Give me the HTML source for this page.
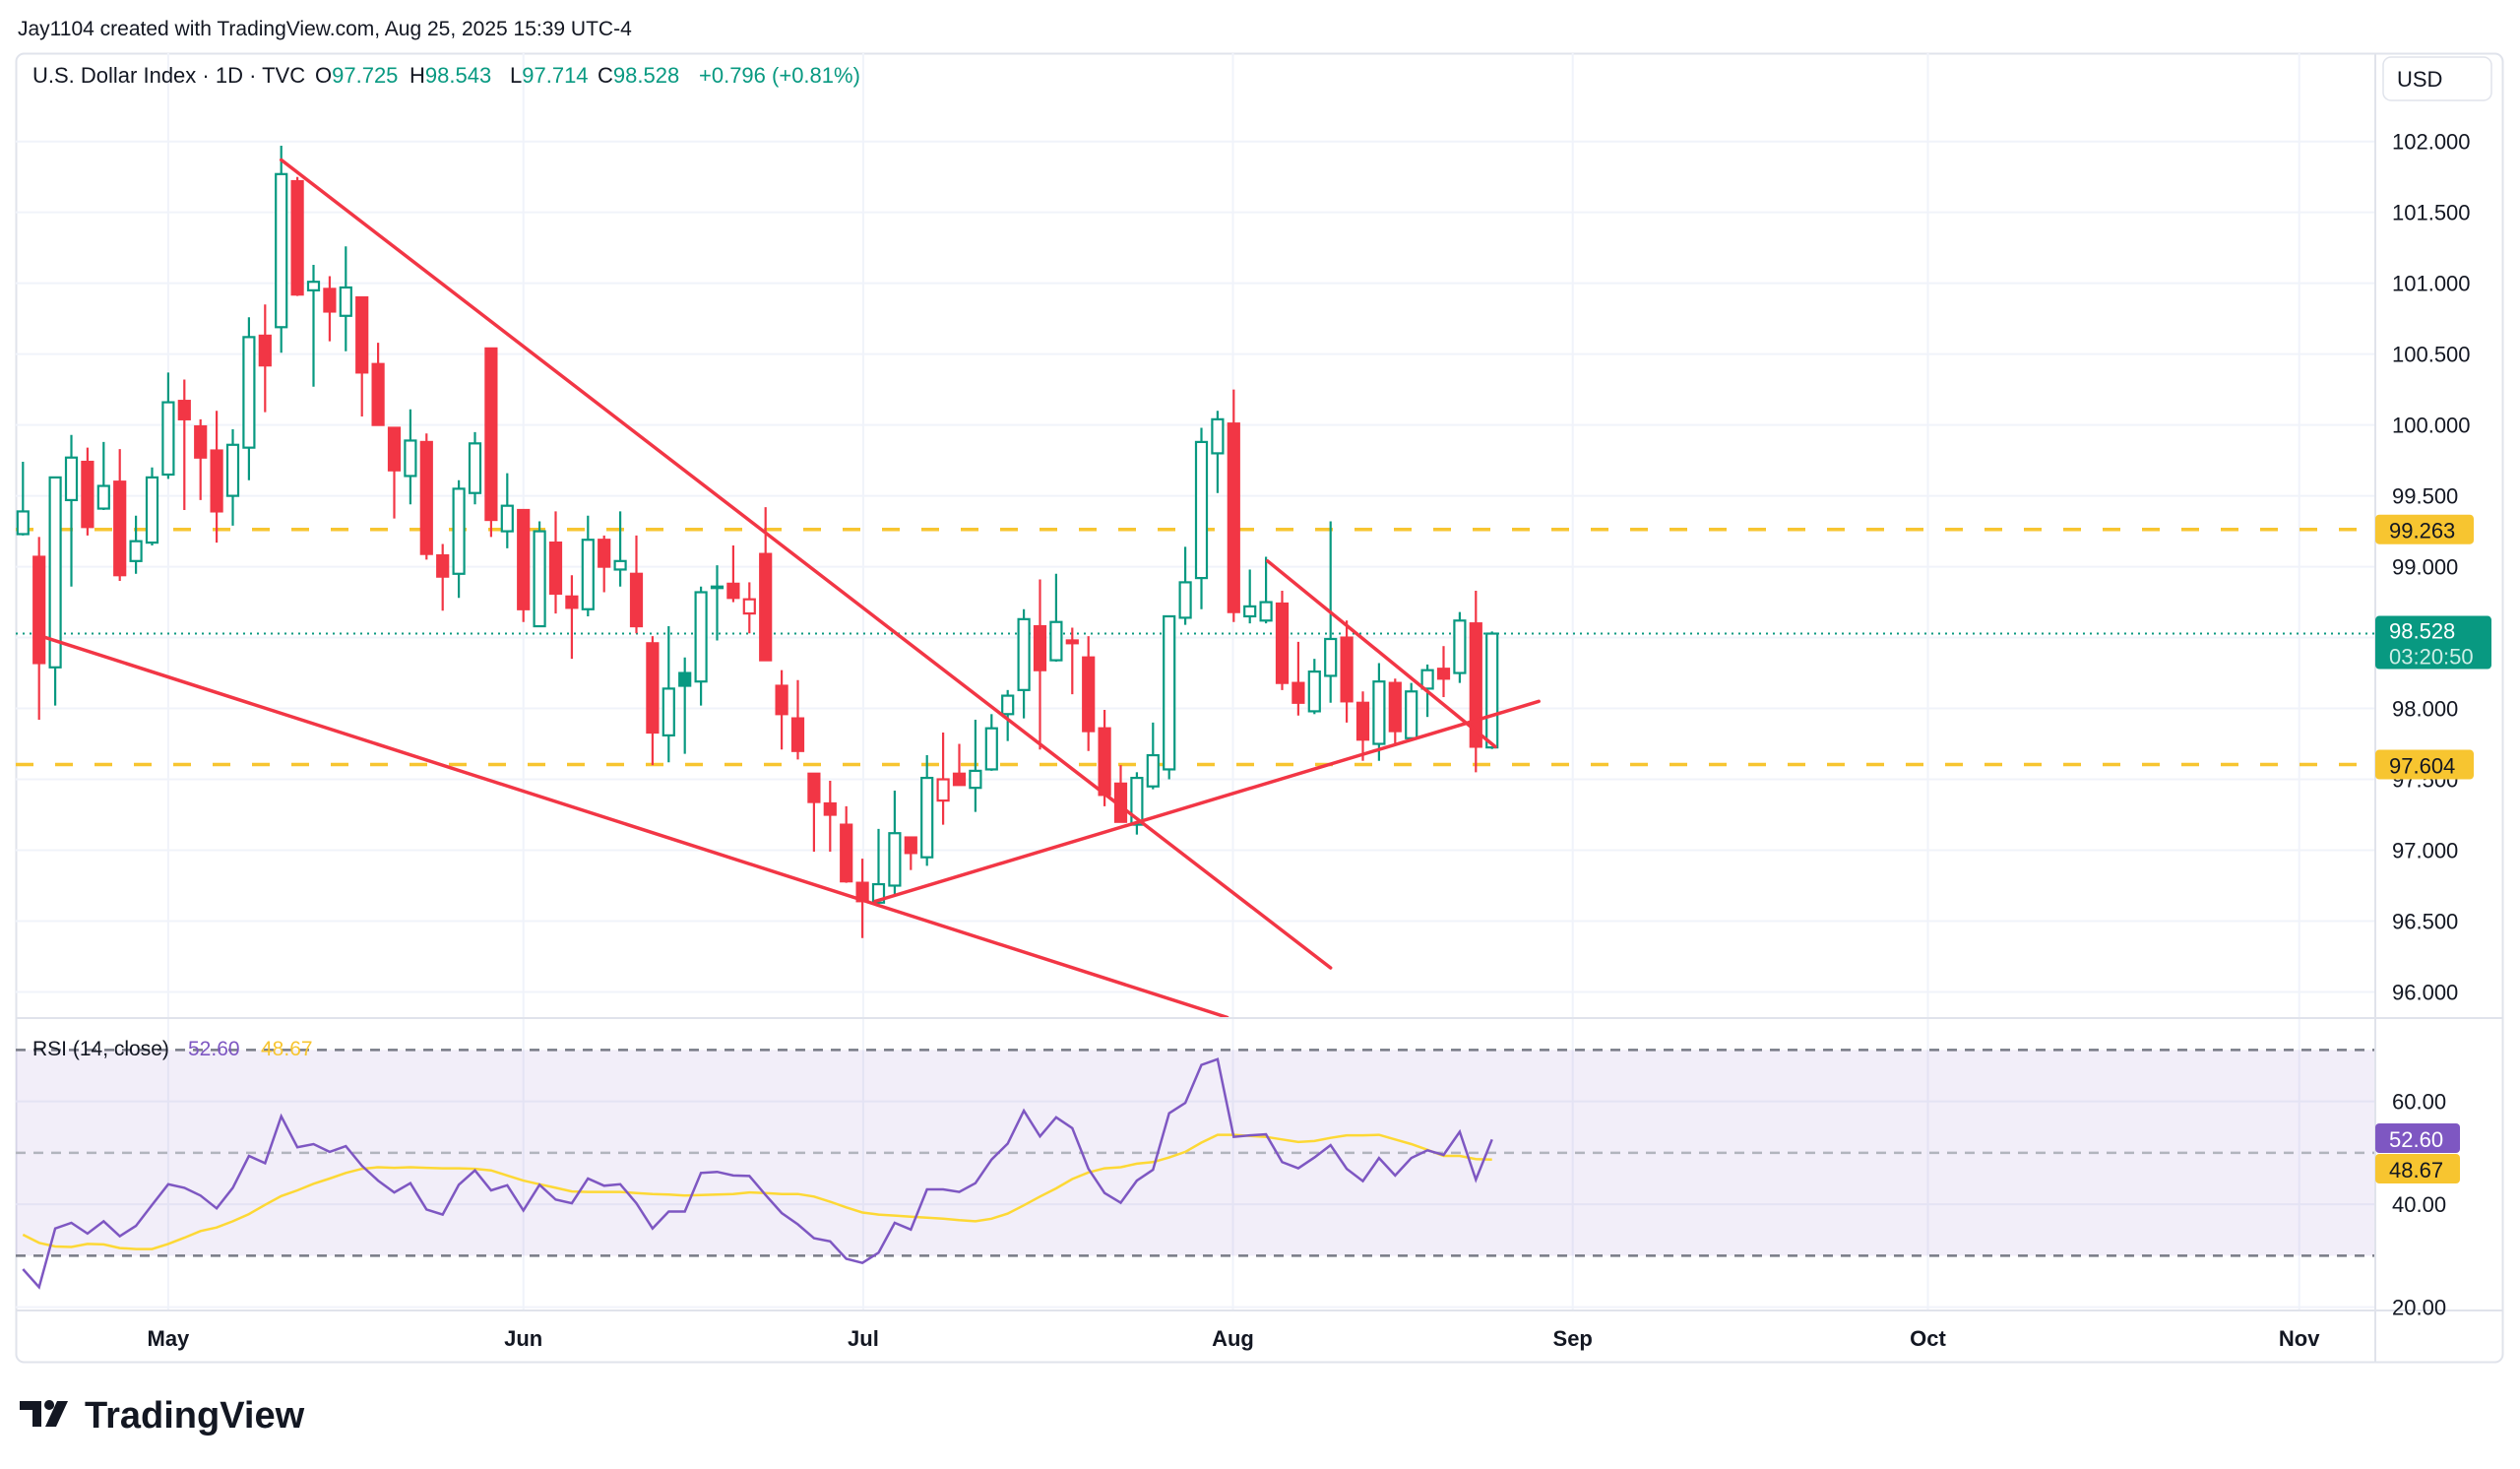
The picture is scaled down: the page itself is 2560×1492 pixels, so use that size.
<!DOCTYPE html>
<html><head><meta charset="utf-8"><style>
html,body{margin:0;padding:0;background:#fff;}
svg{display:block;font-family:"Liberation Sans",sans-serif;}
</style></head><body>
<svg id="chart" width="2560" height="1492" viewBox="0 0 2560 1492" xmlns="http://www.w3.org/2000/svg">
<rect x="0" y="0" width="2560" height="1492" fill="#ffffff"/>
<text x="18" y="36" font-size="21" fill="#131722">Jay1104 created with TradingView.com, Aug 25, 2025 15:39 UTC-4</text>
<rect x="16.5" y="54.5" width="2526" height="1329" rx="8" fill="none" stroke="#e0e3eb" stroke-width="2"/>
<g id="grid"></g>
<rect id="rsiBand" fill="#7e57c2" fill-opacity="0.1"/>
<g id="rsiLines"></g>
<g id="hlines"></g>
<g id="candles"></g>
<g id="trend"></g>
<g id="rsiPlot"></g>
<line x1="2413" y1="54" x2="2413" y2="1383" stroke="#e0e3eb" stroke-width="2"/>
<line x1="16" y1="1034" x2="2542" y2="1034" stroke="#e0e3eb" stroke-width="2"/>
<line x1="16" y1="1331" x2="2542" y2="1331" stroke="#e0e3eb" stroke-width="2"/>
<g id="axes"></g>
<rect x="2421" y="58" width="110" height="44" rx="8" fill="#fff" stroke="#e0e3eb" stroke-width="1.5"/>
<text x="2435" y="88" font-size="22" fill="#131722">USD</text>
<g font-size="22">
<text x="33" y="84" fill="#131722">U.S. Dollar Index · 1D · TVC</text>
<text x="320" y="84" fill="#131722">O<tspan fill="#089981">97.725</tspan></text>
<text x="416" y="84" fill="#131722">H<tspan fill="#089981">98.543</tspan></text>
<text x="518" y="84" fill="#131722">L<tspan fill="#089981">97.714</tspan></text>
<text x="607" y="84" fill="#131722">C<tspan fill="#089981">98.528</tspan></text>
<text x="710" y="84" fill="#089981">+0.796 (+0.81%)</text>
</g>
<g font-size="21">
<text x="33" y="1072" fill="#131722">RSI (14, close)</text>
<text x="191" y="1072" fill="#7e57c2">52.60</text>
<text x="265" y="1072" fill="#f7c530">48.67</text>
</g>
<g>
<path d="M20 1423 h22 v26 h-9 v-17 h-13 z M50 1432 a5 5 0 1 1 0.1 0 z M58 1423 h11 l-12 26 h-11 z" fill="#131722"/>
<text x="86" y="1450" font-size="38" font-weight="bold" fill="#131722">TradingView</text>
</g>
</svg>
<script>
const opens=[99.23,99.07,98.29,99.47,99.74,99.41,99.60,99.04,99.17,99.65,100.17,99.99,99.82,99.50,99.84,100.63,100.69,101.72,100.95,100.96,100.77,100.90,100.43,99.98,99.64,99.88,99.08,98.95,99.52,100.54,99.25,99.40,98.58,99.17,98.79,98.70,99.19,98.98,98.95,98.46,97.81,98.25,98.19,98.85,98.88,98.67,99.09,98.16,97.93,97.54,97.33,97.18,96.77,96.63,96.75,97.09,96.95,97.35,97.54,97.44,97.57,97.96,98.13,98.58,98.34,98.48,98.36,97.86,97.47,97.18,97.45,97.57,98.64,98.92,99.80,100.01,98.65,98.62,98.74,98.18,97.98,98.23,98.50,98.04,97.75,98.18,97.79,98.14,98.28,98.25,98.60,97.725];
const highs=[99.74,99.21,99.63,99.93,99.84,99.88,99.83,99.36,99.70,100.37,100.32,100.04,100.10,99.97,100.76,100.85,101.97,101.75,101.13,101.05,101.26,100.90,100.58,99.98,100.11,99.94,99.16,99.61,99.95,100.54,99.66,99.40,99.32,99.39,98.94,99.36,99.22,99.39,99.22,98.51,98.58,98.36,98.86,99.01,99.15,98.89,99.42,98.27,98.20,97.54,97.49,97.31,96.94,97.15,97.42,97.09,97.67,97.83,97.75,97.92,97.96,98.13,98.70,98.91,98.95,98.57,98.51,97.99,97.60,97.55,97.90,98.65,99.14,99.98,100.10,100.25,98.98,99.07,98.83,98.47,98.35,99.32,98.62,98.12,98.32,98.21,98.18,98.31,98.44,98.68,98.83,98.543];
const lows=[99.22,97.92,98.02,98.86,99.22,99.40,98.90,98.95,99.15,99.62,99.40,99.47,99.17,99.29,99.61,100.09,100.51,100.91,100.27,100.59,100.52,100.06,100.00,99.34,99.44,99.05,98.69,98.78,99.44,99.21,99.13,98.61,98.58,98.67,98.35,98.65,98.82,98.86,98.53,97.60,97.62,97.68,98.02,98.48,98.75,98.53,98.34,97.71,97.64,96.99,96.99,96.77,96.38,96.62,96.69,96.86,96.89,97.18,97.46,97.27,97.56,97.77,97.93,97.71,98.33,98.10,97.70,97.31,97.20,97.11,97.43,97.50,98.59,98.70,99.52,98.61,98.60,98.60,98.13,97.95,97.96,98.04,97.90,97.63,97.63,97.74,97.78,97.94,98.08,98.18,97.55,97.714];
const closes=[99.39,98.32,99.63,99.77,99.28,99.57,98.94,99.18,99.63,100.16,100.04,99.77,99.39,99.86,100.62,100.42,101.77,100.92,101.01,100.80,100.97,100.37,100.00,99.68,99.89,99.09,98.93,99.55,99.87,99.33,99.43,98.70,99.25,98.81,98.71,99.19,99.00,99.04,98.58,97.83,98.14,98.16,98.82,98.86,98.78,98.77,98.34,97.96,97.70,97.34,97.25,96.78,96.64,96.76,97.12,96.98,97.51,97.50,97.46,97.56,97.86,98.09,98.63,98.27,98.61,98.46,97.84,97.39,97.20,97.51,97.67,98.65,98.89,99.88,100.04,98.68,98.72,98.75,98.18,98.04,98.26,98.49,98.05,97.78,98.19,97.84,98.12,98.27,98.21,98.62,97.73,98.528];
const rsi=[27.4,23.9,35.3,36.4,34.3,36.7,33.8,35.8,39.9,43.9,43.2,41.7,39.2,43.2,49.4,48.0,57.1,51.1,51.7,50.2,51.3,47.5,44.6,42.3,44.1,39.0,38.0,43.8,46.6,42.7,43.7,38.8,43.8,40.9,40.2,45.0,43.6,43.9,40.2,35.3,38.6,38.6,46.1,46.3,45.6,45.5,41.8,38.3,36.1,33.4,32.8,29.4,28.6,30.6,36.4,35.1,42.9,42.9,42.4,44.1,48.7,51.8,58.2,53.2,56.9,54.8,46.9,42.2,40.3,44.6,46.7,57.7,59.7,67.1,68.2,53.1,53.4,53.6,48.2,47.0,49.1,51.5,46.9,44.5,49.0,45.6,49.0,50.5,49.6,54.1,44.8,52.6];
const rsiMa=[34.1,32.5,31.8,31.7,32.3,32.2,31.5,31.3,31.3,32.3,33.5,34.8,35.5,36.7,38.1,39.9,41.6,42.7,44.0,45.0,46.1,46.9,47.2,47.1,47.2,47.1,47.0,47.0,46.9,46.6,45.6,44.6,43.9,43.2,42.5,42.4,42.4,42.4,42.2,42.0,41.9,41.7,41.8,41.9,42.0,42.3,42.2,42.0,42.0,41.5,40.5,39.4,38.4,38.0,37.8,37.6,37.4,37.2,36.9,36.7,37.2,38.2,39.8,41.5,43.1,44.9,46.2,47.0,47.2,47.9,48.2,49.1,50.2,52.0,53.5,53.5,53.3,53.1,52.6,52.1,52.3,52.9,53.4,53.4,53.5,52.6,51.7,50.6,49.4,49.4,48.8,48.67];
const priceTicks=[102,101.5,101,100.5,100,99.5,99,98.5,98,97.5,97,96.5,96];
const rsiTicks=[60,40,20];
const monthLabels=["May","Jun","Jul","Aug","Sep","Oct","Nov"];
const monthIdx=[9,31,52.05,74.95,96,118,141];
const levels=[99.263,97.604];
const trendlines=[[16.0,101.87,81.0,96.17],[1.4,98.50,74.6,95.82],[52.8,96.64,93.9,98.05],[77.1,99.04,91.2,97.73]];

const NS="http://www.w3.org/2000/svg";
const xOf=i=>23.3+16.4*i;
const yP=p=>143.7+(102-p)*143.96;
const yR=v=>1066.4+(70-v)*5.225;
const UP="#089981",DN="#f23645";
function mk(parent,tag,attrs){const e=document.createElementNS(NS,tag);for(const k in attrs)e.setAttribute(k,attrs[k]);document.getElementById(parent).appendChild(e);return e;}

priceTicks.forEach(p=>{const e=mk('grid','line',{x1:16,x2:2413,y1:yP(p),y2:yP(p),stroke:'#f0f3fa','stroke-width':2});

});
rsiTicks.forEach(v=>{const e=mk('grid','line',{x1:16,x2:2413,y1:yR(v),y2:yR(v),stroke:'#f0f3fa','stroke-width':2});

});
monthIdx.forEach(m=>{const e=mk('grid','line',{x1:xOf(m),x2:xOf(m),y1:54,y2:1331,stroke:'#f0f3fa','stroke-width':2});

});

const band=document.getElementById('rsiBand');
band.setAttribute('x',16);band.setAttribute('width',2397);band.setAttribute('y',yR(70));band.setAttribute('height',yR(30)-yR(70));
[[70,'#787b86'],[50,'#b2b5be'],[30,'#787b86']].forEach(([v,c])=>{const e=mk('rsiLines','line',{x1:16,x2:2413,y1:yR(v),y2:yR(v),stroke:c,'stroke-width':2.5,'stroke-dasharray':'10 8'});

});

levels.forEach(p=>{const e=mk('hlines','line',{x1:16,x2:2413,y1:yP(p),y2:yP(p),stroke:'#f7c530','stroke-width':3.5,'stroke-dasharray':'18 22'});

});
const last=closes[closes.length-1];
{const e=mk('hlines','line',{x1:16,x2:2413,y1:yP(last),y2:yP(last),stroke:UP,'stroke-width':2,'stroke-dasharray':'2 5'});

}

for(let i=0;i<opens.length;i++){
  const o=opens[i],c=closes[i],h=highs[i],l=lows[i];
  const prev=i>0?closes[i-1]:o;
  const col=c>=prev?UP:DN;
  const hollow=c>=o;
  const x=xOf(i);
  const top=yP(Math.max(o,c)),bot=yP(Math.min(o,c));
  const w=mk('candles','line',{x1:x,x2:x,y1:yP(h),y2:yP(l),stroke:col,'stroke-width':2.2});
  
  
  const b=mk('candles','rect',{x:x-5.5,y:top,width:11,height:Math.max(bot-top,1.5),fill:hollow?'#ffffff':col,stroke:col,'stroke-width':2.2});
  
  
}

trendlines.forEach(t=>{const e=mk('trend','line',{x1:xOf(t[0]),y1:yP(t[1]),x2:xOf(t[2]),y2:yP(t[3]),stroke:DN,'stroke-width':3.5,'stroke-linecap':'round'});

});

const pts=a=>a.map((v,i)=>xOf(i).toFixed(1)+','+yR(v).toFixed(1)).join(' ');
{const e=mk('rsiPlot','polyline',{points:pts(rsiMa),fill:'none',stroke:'#fdd835','stroke-width':2.5});

}
{const e=mk('rsiPlot','polyline',{points:pts(rsi),fill:'none',stroke:'#7e57c2','stroke-width':2.5});

}

priceTicks.forEach(p=>{const e=mk('axes','text',{x:2430,y:yP(p)+8,'font-size':22,fill:'#131722'});e.textContent=p.toFixed(3);

});
rsiTicks.forEach(v=>{const e=mk('axes','text',{x:2430,y:yR(v)+8,'font-size':22,fill:'#131722'});e.textContent=v.toFixed(2);

});
monthLabels.forEach((m,k)=>{const e=mk('axes','text',{x:xOf(monthIdx[k]),y:1367,'font-size':22,fill:'#131722','text-anchor':'middle','font-weight':'bold'});e.textContent=m;

});

function badge(y,h,w,bg,lines,fg){
  const r=mk('axes','rect',{x:2413,y:y-h/2,width:w,height:h,rx:4,fill:bg});
  
  
  lines.forEach((s,k)=>{const t=mk('axes','text',{x:2427,y:y-h/2+24+k*27,'font-size':22,fill:k?fg[1]:fg[0]});t.textContent=s;
  
  });
}
badge(yP(levels[0]),30,100,'#f7c530',[levels[0].toFixed(3)],['#131722']);
badge(yP(levels[1]),30,100,'#f7c530',[levels[1].toFixed(3)],['#131722']);
{const r=mk('axes','rect',{x:2413,y:yP(last)-18,width:118,height:54,rx:4,fill:UP});


const t1=mk('axes','text',{x:2427,y:yP(last)+5,'font-size':22,fill:'#fff'});t1.textContent=last.toFixed(3);


const t2=mk('axes','text',{x:2427,y:yP(last)+31,'font-size':22,fill:'#cdeee6'});t2.textContent='03:20:50';

}
badge(1156,30,86,'#7e57c2',[rsi[rsi.length-1].toFixed(2)],['#ffffff']);
badge(1187,30,86,'#f7c530',[rsiMa[rsiMa.length-1].toFixed(2)],['#131722']);
</script>
</body></html>
